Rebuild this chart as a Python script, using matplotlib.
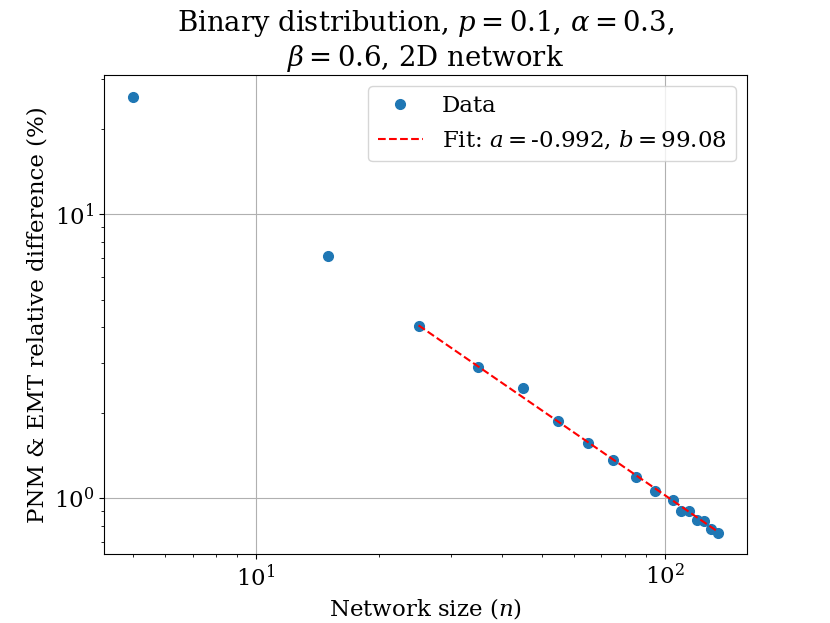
import numpy
import matplotlib
matplotlib.use("Agg")
import matplotlib.pyplot as plt

NAME_OUTPUT_GRAPH = "out.png"

# network sizes and PNM/EMT relative difference (%)
network_size = [5, 15, 25, 35, 45, 55, 65, 75, 85, 95, 105, 110, 115, 120, 125, 130, 135]
rel_difference = [26.0, 7.11, 4.06, 2.89, 2.44, 1.87, 1.56, 1.36, 1.19, 1.06,
                  0.99, 0.902, 0.905, 0.837, 0.834, 0.782, 0.757]

# power law fit y = b * n**a, fitted from n >= 25
FIT_A = -0.992
FIT_B = 99.08
FIT_START = 25

plt.rcParams['font.family'] = 'DejaVu Serif'
plt.rcParams['mathtext.fontset'] = 'dejavuserif'
plt.rcParams['font.size'] = 16.5


def charts():
    fig = plt.figure(figsize=(8.3, 6.23), dpi=100)
    ax = fig.add_subplot(111)
    n = numpy.array(network_size)
    y = numpy.array(rel_difference)
    ax.plot(n, y, 'o', color='tab:blue', markersize=7, label='Data', zorder=3)
    n_fit = n[n >= FIT_START]
    ax.plot(n_fit, FIT_B * n_fit ** FIT_A, color='red', linestyle='--', zorder=4,
            label='Fit: $a=$' + str(FIT_A) + ', $b=$' + str(FIT_B))
    ax.set_xscale('log')
    ax.set_yscale('log')
    ax.grid(True)
    ax.set_xlabel('Network size ($n$)')
    ax.set_ylabel('PNM & EMT relative difference (%)')
    ax.set_title('Binary distribution, $p=0.1$, $\\alpha=0.3$,\n$\\beta=0.6$, 2D network')
    ax.legend(loc='upper right')
    plt.savefig(NAME_OUTPUT_GRAPH, dpi=100)


charts()
